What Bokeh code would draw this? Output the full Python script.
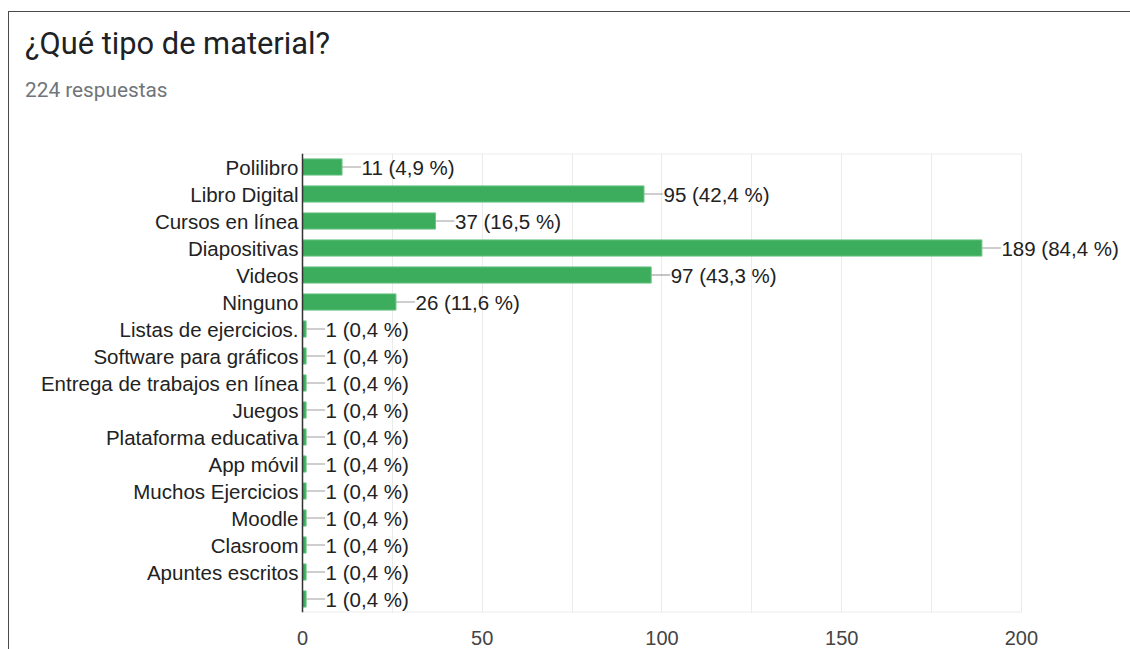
from bokeh.plotting import figure
from bokeh.models import ColumnDataSource, FixedTicker, Range1d, Div
from bokeh.layouts import column
from bokeh.core.properties import value
from bokeh.embed import file_html
from bokeh.resources import INLINE

title_text = "¿Qué tipo de material?"
subtitle_text = "224 respuestas"
total_responses = 224

categories = [
    "Polilibro", "Libro Digital", "Cursos en línea", "Diapositivas", "Videos",
    "Ninguno", "Listas de ejercicios.", "Software para gráficos",
    "Entrega de trabajos en línea", "Juegos", "Plataforma educativa",
    "App móvil", "Muchos Ejercicios", "Moodle", "Clasroom", "Apuntes escritos", "",
]
counts = [11, 95, 37, 189, 97, 26, 1, 1, 1, 1, 1, 1, 1, 1, 1, 1, 1]
x_ticks = [0, 50, 100, 150, 200]
grid_ticks = [0, 25, 50, 75, 100, 125, 150, 175, 200]

# page geometry (pixels)
W, H = 1130, 649
CARD_L, CARD_T = 8, 11
BORDER = 1
HEADER_H = 110
AXIS_X0, AXIS_X200 = 302.5, 1021
FRAME_T, FRAME_B = 153, 612
PAD_L = 3  # small room left of zero so the baseline is drawn in full

fig_left = CARD_L + BORDER
fig_top = CARD_T + BORDER + HEADER_H
fig_w = W - fig_left
fig_h = H - fig_top

n = len(categories)
ypos = list(range(n))
pct = [c * 100.0 / total_responses for c in counts]
labels = [f"{c} ({p:.1f} %)".replace(".", ",") for c, p in zip(counts, pct)]

px_per_unit = (AXIS_X200 - AXIS_X0) / (x_ticks[-1] - x_ticks[0])
x_start = -PAD_L / px_per_unit
x_end = (W - AXIS_X0) / px_per_unit
lead = 19 / px_per_unit  # connector length in data units

src = ColumnDataSource(dict(
    y=ypos, count=counts, label=labels,
    lead_end=[c + lead for c in counts],
    text_x=[c + lead + 0.5 / px_per_unit for c in counts],
))

p = figure(
    width=fig_w, height=fig_h, output_backend="svg", toolbar_location=None,
    x_range=Range1d(x_start, x_end),
    y_range=Range1d(n - 0.5, -0.5),
    min_border_left=int(round(AXIS_X0 - PAD_L - fig_left)), min_border_right=0,
    min_border_top=FRAME_T - fig_top, min_border_bottom=H - FRAME_B,
)
p.outline_line_color = None
p.background_fill_color = "white"
p.border_fill_color = "white"

# vertical gridlines every 25, plus top and bottom rules of the chart area
p.xgrid.ticker = FixedTicker(ticks=grid_ticks)
p.xgrid.grid_line_color = "#ebebeb"
p.ygrid.grid_line_color = None
p.segment(x0=[0, 0], x1=[x_ticks[-1], x_ticks[-1]], y0=[-0.5, n - 0.5], y1=[-0.5, n - 0.5],
          line_color="#ebebeb", line_width=2)

# x axis
p.xaxis.ticker = FixedTicker(ticks=x_ticks)
p.xaxis.axis_line_color = None
p.xaxis.major_tick_line_color = None
p.xaxis.minor_tick_line_color = None
p.xaxis.major_label_text_font = "Liberation Sans"
p.xaxis.major_label_text_font_size = "20px"
p.xaxis.major_label_text_color = "#444444"
p.xaxis.major_label_standoff = 12

# y axis with category names
p.yaxis.ticker = FixedTicker(ticks=ypos)
p.yaxis.major_label_overrides = {i: c for i, c in enumerate(categories)}
p.yaxis.axis_line_color = None
p.yaxis.major_tick_line_color = None
p.yaxis.minor_tick_line_color = None
p.yaxis.major_label_text_font = "Liberation Sans"
p.yaxis.major_label_text_font_size = "20.5px"
p.yaxis.major_label_text_color = "#222222"
p.yaxis.major_label_standoff = -5

p.hbar(y="y", right="count", left=0, height=0.6, source=src,
       fill_color="#3cad5d", line_color="#6cc586", line_width=1)
p.segment(x0="count", y0="y", x1="lead_end", y1="y", source=src,
          line_color="#9e9e9e", line_width=1.2)
p.text(x="text_x", y="y", text="label", source=src,
       text_font=value("Liberation Sans"), text_font_size="20.5px",
       text_color="#222222", text_align="left", text_baseline="middle")

# baseline at zero drawn over the bars
p.segment(x0=[0], x1=[0], y0=[-0.5], y1=[n - 0.5], line_color="#333333", line_width=1.5)

header = Div(
    text=(
        f'<div style="position:absolute;left:16px;top:17px;font-family:Roboto;'
        f'font-size:30.8px;line-height:1;color:#202124;white-space:nowrap;">{title_text}</div>'
        f'<div style="position:absolute;left:16px;top:68px;font-family:Roboto;'
        f'font-size:20.8px;line-height:1;color:#70757a;white-space:nowrap;">{subtitle_text}</div>'
    ),
    width=fig_w, height=HEADER_H, margin=0,
)
p.margin = 0

card = column(
    header, p, margin=(CARD_T, 0, 0, CARD_L), spacing=0,
    styles={"border-top": f"{BORDER}px solid #4a4a4a", "border-left": f"{BORDER}px solid #4a4a4a",
            "background": "white"},
)

open("out.html", "w").write(file_html(card, INLINE))
